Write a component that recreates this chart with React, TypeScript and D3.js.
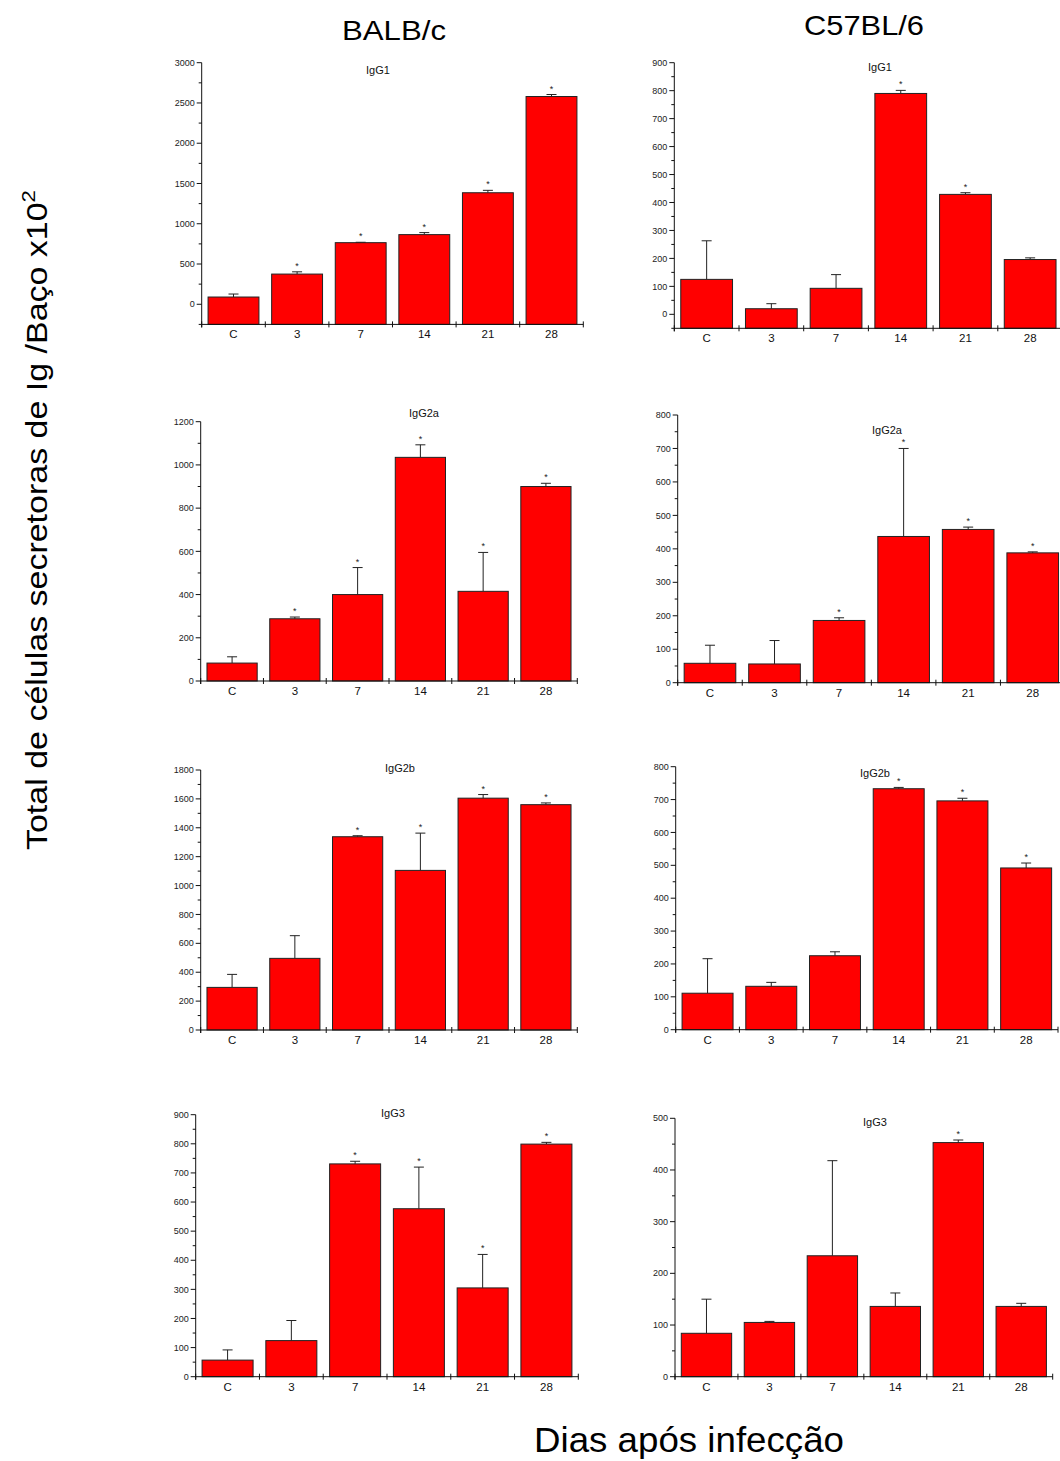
import React from "react";
import * as d3 from "d3";

const categories = ["C", "3", "7", "14", "21", "28"];

const balbIgG1 = [90, 375, 765, 865, 1385, 2580];
const balbIgG1Err = [37, 28, 5, 25, 30, 25];
const balbIgG1Star = [false, true, true, true, true, true];

const c57IgG1 = [125, 20, 93, 790, 429, 196];
const c57IgG1Err = [138, 18, 49, 11, 6, 6];
const c57IgG1Star = [false, false, false, true, true, false];

const balbIgG2a = [83, 288, 400, 1035, 415, 900];
const balbIgG2aErr = [29, 8, 125, 58, 180, 15];
const balbIgG2aStar = [false, true, true, true, true, true];

const c57IgG2a = [58, 56, 186, 437, 458, 388];
const c57IgG2aErr = [54, 70, 8, 263, 7, 3];
const c57IgG2aStar = [false, false, true, true, true, true];

const balbIgG2b = [295, 496, 1338, 1105, 1605, 1560];
const balbIgG2bErr = [90, 157, 7, 258, 25, 12];
const balbIgG2bStar = [false, false, true, true, true, true];

const c57IgG2b = [111, 132, 225, 733, 696, 492];
const c57IgG2bErr = [105, 12, 12, 4, 8, 15];
const c57IgG2bStar = [false, false, false, true, true, true];

const balbIgG3 = [57, 124, 731, 577, 305, 799];
const balbIgG3Err = [35, 69, 9, 143, 115, 6];
const balbIgG3Star = [false, false, true, true, true, true];

const c57IgG3 = [84, 105, 234, 136, 453, 136];
const c57IgG3Err = [66, 2, 184, 26, 5, 6];
const c57IgG3Star = [false, false, false, false, true, false];

const strainLabels = ["BALB/c", "C57BL/6"];
const yAxisLabel = "Total de células secretoras de Ig /Baço x10";
const xAxisLabel = "Dias após infecção";

type Panel = {
  title: string;
  values: number[];
  errs: number[];
  stars: boolean[];
  domain: [number, number];
  step: number;
  left: number;
  right: number;
  top: number;
  bottom: number;
  titleX: number;
  titleY: number;
};

const panels: Panel[] = [
  { title: "IgG1", values: balbIgG1, errs: balbIgG1Err, stars: balbIgG1Star, domain: [-250, 3000], step: 500,
    left: 201.7, right: 583.3, top: 62.7, bottom: 324.4, titleX: 378, titleY: 74 },
  { title: "IgG1", values: c57IgG1, errs: c57IgG1Err, stars: c57IgG1Star, domain: [-50, 900], step: 100,
    left: 674.3, right: 1062.5, top: 62.7, bottom: 328.3, titleX: 880, titleY: 71 },
  { title: "IgG2a", values: balbIgG2a, errs: balbIgG2aErr, stars: balbIgG2aStar, domain: [0, 1200], step: 200,
    left: 200.7, right: 577.3, top: 421.7, bottom: 681, titleX: 424, titleY: 417 },
  { title: "IgG2a", values: c57IgG2a, errs: c57IgG2aErr, stars: c57IgG2aStar, domain: [0, 800], step: 100,
    left: 677.7, right: 1065, top: 415, bottom: 682.7, titleX: 887, titleY: 434 },
  { title: "IgG2b", values: balbIgG2b, errs: balbIgG2bErr, stars: balbIgG2bStar, domain: [0, 1800], step: 200,
    left: 200.7, right: 577.3, top: 770, bottom: 1030, titleX: 400, titleY: 772 },
  { title: "IgG2b", values: c57IgG2b, errs: c57IgG2bErr, stars: c57IgG2bStar, domain: [0, 800], step: 100,
    left: 675.7, right: 1058, top: 766.7, bottom: 1029.7, titleX: 875, titleY: 777 },
  { title: "IgG3", values: balbIgG3, errs: balbIgG3Err, stars: balbIgG3Star, domain: [0, 900], step: 100,
    left: 195.7, right: 578.3, top: 1114.7, bottom: 1376.7, titleX: 393, titleY: 1117 },
  { title: "IgG3", values: c57IgG3, errs: c57IgG3Err, stars: c57IgG3Star, domain: [0, 500], step: 100,
    left: 675, right: 1052.7, top: 1118.3, bottom: 1376.7, titleX: 875, titleY: 1126 },
];

const FONT = "'Liberation Sans', Arial, sans-serif";

function BarPanel({ p }: { p: Panel }) {
  const maxTick = Math.floor(p.domain[1] / p.step) * p.step;
  const y = d3.scaleLinear().domain(p.domain).range([p.bottom, p.top]);
  const x = d3.scaleBand<string>().domain(categories).range([p.left, p.right]).paddingInner(0.2).paddingOuter(0.1);
  const majors = d3.range(Math.ceil(p.domain[0] / p.step) * p.step, maxTick + 0.001, p.step);
  const minors = d3.range(Math.ceil(p.domain[0] / (p.step / 2)) * (p.step / 2), p.domain[1] + 0.001, p.step / 2)
    .filter((v) => Math.abs(v / p.step - Math.round(v / p.step)) > 1e-6);
  const boundaries = d3.range(0, categories.length + 1).map((i) => p.left + (i * (p.right - p.left)) / categories.length);
  const step = (p.right - p.left) / categories.length;
  return (
    <g>
      {p.values.map((v, i) => {
        const c = categories[i];
        const bx = x(c)!;
        const bw = x.bandwidth();
        const cx = bx + bw / 2;
        const yTop = y(v);
        const yErr = y(v + p.errs[i]);
        return (
          <g key={c}>
            <line x1={cx} x2={cx} y1={yTop} y2={yErr} stroke="#222" strokeWidth={1} />
            <line x1={cx - 5} x2={cx + 5} y1={yErr} y2={yErr} stroke="#222" strokeWidth={1} />
            <rect x={bx} y={yTop} width={bw} height={p.bottom - yTop}
              fill="#ff0000" stroke="#222" strokeWidth={1} />
            {p.stars[i] && (
              <text x={cx} y={yErr - 3} textAnchor="middle" fontSize={9} fontFamily={FONT} fill="#222">*</text>
            )}
          </g>
        );
      })}
      <line x1={p.left} x2={p.left} y1={p.top} y2={p.bottom + 3} stroke="#111" strokeWidth={1} />
      {majors.map((t) => (
        <g key={"M" + t}>
          <line x1={p.left - 5} x2={p.left} y1={y(t)} y2={y(t)} stroke="#111" strokeWidth={1} />
          <text x={p.left - 7} y={y(t)} dy="0.35em" textAnchor="end" fontSize={9} fontFamily={FONT} fill="#222">{t}</text>
        </g>
      ))}
      {minors.map((t) => (
        <line key={"m" + t} x1={p.left - 3} x2={p.left} y1={y(t)} y2={y(t)} stroke="#111" strokeWidth={1} />
      ))}
      <line x1={p.left} x2={p.right} y1={p.bottom} y2={p.bottom} stroke="#111" strokeWidth={1} />
      {boundaries.map((bx, i) => (
        <line key={"b" + i} x1={bx} x2={bx} y1={p.bottom - 3} y2={p.bottom + 3} stroke="#111" strokeWidth={1} />
      ))}
      {categories.map((c, i) => (
        <text key={"xl" + c} x={p.left + step * (i + 0.5)} y={p.bottom + 14} textAnchor="middle" fontSize={11.5} fontFamily={FONT} fill="#111">{c}</text>
      ))}
      <text x={p.titleX} y={p.titleY} textAnchor="middle" fontSize={11} fontFamily={FONT} fill="#111">{p.title}</text>
    </g>
  );
}

export default function App() {
  return (
    <svg width={1060} height={1461} style={{ position: "absolute", left: 0, top: 0, background: "#fff" }}>
      <rect x={0} y={0} width={1060} height={1461} fill="#fff" />
      <text x={394} y={40} textAnchor="middle" fontSize={28} fontFamily={FONT} fill="#000"
        textLength={104} lengthAdjust="spacingAndGlyphs">{strainLabels[0]}</text>
      <text x={864} y={35} textAnchor="middle" fontSize={28} fontFamily={FONT} fill="#000"
        textLength={120} lengthAdjust="spacingAndGlyphs">{strainLabels[1]}</text>
      <text transform="translate(47,520) rotate(-90)" textAnchor="middle" fontSize={29} fontFamily={FONT} fill="#000"
        textLength={660} lengthAdjust="spacingAndGlyphs">
        {yAxisLabel}
        <tspan dy={-12} fontSize={19}>2</tspan>
      </text>
      <text x={689} y={1452} textAnchor="middle" fontSize={35} fontFamily={FONT} fill="#000"
        textLength={310} lengthAdjust="spacingAndGlyphs">{xAxisLabel}</text>
      {panels.map((p, i) => (
        <BarPanel key={i} p={p} />
      ))}
    </svg>
  );
}
